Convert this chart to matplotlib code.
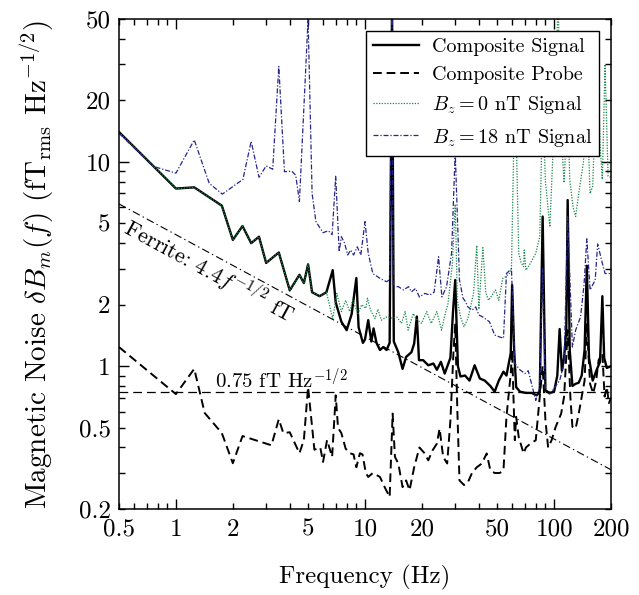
import matplotlib
matplotlib.use("Agg")
import matplotlib.pyplot as plt
from matplotlib.ticker import LogLocator, FuncFormatter
import numpy as np

plt.rcParams["font.family"] = ["cmr10", "DejaVu Serif"]
plt.rcParams["mathtext.fontset"] = "cm"
plt.rcParams["axes.formatter.use_mathtext"] = True

# ---- data ----
sig_f = [0.5, 1.0, 1.25, 1.75, 2.0, 2.25, 2.5, 2.75, 3.0, 3.5, 4.0, 4.5, 4.75, 5.0, 5.25,
         5.75, 6.25, 6.75, 7.0, 7.5, 8.0, 8.5, 9.0, 9.25, 9.75, 10.0, 10.4, 10.8, 11.1, 11.5,
         12.0, 12.5, 13.0, 13.5, 13.9, 14.2, 15.0, 15.8, 16.5, 17.6, 18.2, 18.8, 19.3, 20.3,
         21.6, 23.0, 24.0, 25.2, 26.4, 28.3, 29.2, 30.0, 31.0, 32.0, 33.8, 35.7, 38.0, 40.5,
         43.0, 46.0, 48.5, 51.0, 54.0, 56.0, 59.0, 60.0, 61.5, 63.0, 66.0, 70.7, 76.0, 81.0,
         84.0, 87.0, 90.0, 95.0, 100.0, 104.0, 107.0, 110.0, 113.0, 116.0, 118.0, 121.0, 125.0,
         130.0, 135.0, 140.0, 145.0, 149.0, 153.0, 160.0, 168.0, 175.0, 180.0, 184.0, 190.0,
         200.0]
sig_v = [14.0, 7.4, 7.5, 6.1, 4.15, 4.85, 4.0, 4.3, 3.2, 3.6, 2.35, 2.8, 2.55, 3.15, 2.3,
         2.2, 2.3, 2.95, 2.05, 1.65, 1.5, 1.8, 2.7, 1.55, 1.3, 1.35, 1.68, 1.32, 1.53, 1.3,
         1.2, 1.24, 1.2, 1.3, 60.0, 1.32, 1.17, 0.97, 1.11, 1.17, 1.29, 1.75, 1.07, 1.07,
         1.01, 1.03, 0.96, 1.05, 0.92, 1.1, 1.84, 2.64, 1.0, 0.89, 0.9, 0.85, 1.01, 0.87,
         0.85, 0.8, 0.75, 0.85, 0.94, 0.9, 1.16, 2.5, 1.2, 0.79, 0.75, 0.74, 0.74, 0.72,
         0.75, 5.4, 0.76, 0.74, 0.75, 0.9, 1.52, 0.95, 1.1, 1.5, 6.5, 1.2, 0.8,
         0.82, 0.83, 0.9, 1.2, 3.1, 1.1, 0.85, 0.96, 1.05, 2.2, 1.1, 0.98,
         1.0]

probe_f = [0.5, 1.0, 1.25, 1.42, 1.75, 2.0, 2.25, 3.2, 3.5, 3.7, 4.0, 4.5, 4.75, 5.0, 5.4,
           5.8, 6.0, 6.3, 6.7, 7.0, 7.2, 7.5, 7.9, 8.3, 8.7, 9.0, 9.4, 9.7, 10.1, 10.4, 11.0,
           12.0, 12.7, 13.5, 14.0, 14.4, 15.0, 15.8, 16.5, 17.2, 18.2, 19.4, 20.7, 21.6, 22.8,
           24.0, 24.8, 25.9, 27.2, 28.3, 29.4, 30.0, 30.8, 31.6, 33.4, 35.0, 36.8, 39.0, 41.5,
           44.0, 46.0, 48.5, 51.6, 54.0, 56.0, 59.0, 60.0, 61.0, 62.0, 63.0, 65.0, 69.0, 71.0,
           75.0, 80.0, 84.0, 87.0, 90.0, 93.0, 97.0, 102.0, 109.0, 113.0, 118.0, 122.0, 125.0,
           130.0, 135.0, 145.0, 149.0, 155.0, 161.0, 167.0, 172.0, 180.0, 185.0, 190.0, 195.0,
           200.0]
probe_v = [1.24, 0.73, 0.97, 0.59, 0.47, 0.335, 0.455, 0.41, 0.55, 0.47, 0.475, 0.375, 0.435,
           0.79, 0.39, 0.40, 0.34, 0.435, 0.36, 0.72, 0.50, 0.47, 0.395, 0.375, 0.37, 0.32,
           0.375, 0.37, 0.30, 0.287, 0.30, 0.287, 0.256, 0.229, 0.586, 0.36, 0.334, 0.256,
           0.276, 0.247, 0.32, 0.40, 0.374, 0.346, 0.388, 0.418, 0.495, 0.36, 0.334, 0.544,
           1.2, 1.6, 0.6, 0.276, 0.262, 0.27, 0.30, 0.32, 0.334, 0.374, 0.31, 0.30, 0.30,
           0.31, 0.565, 0.92, 1.2, 0.7, 0.434, 0.565, 0.45, 0.374, 0.40, 0.418, 0.434, 0.71,
           1.0, 0.544, 0.40, 0.434, 0.505, 0.586, 0.71, 1.5, 0.7, 0.505, 0.495, 0.586, 0.85,
           1.62, 0.82, 0.735, 0.85, 1.07, 1.16, 0.71, 0.79, 0.66, 0.7]

b0_f = [0.5, 1.0, 1.25, 1.75, 2.0, 2.25, 2.5, 2.75, 3.0, 3.5, 4.0, 4.5, 4.75, 5.0, 5.25,
        5.75, 6.25, 6.75, 7.1, 7.5, 7.9, 8.3, 8.6, 9.2, 9.6, 10.1, 10.3, 10.7, 11.3, 11.7,
        12.2, 13.0, 13.9, 14.7, 15.6, 16.3, 16.9, 18.0, 18.6, 19.9, 21.2, 22.4, 24.0, 25.4,
        26.3, 27.5, 29.0, 30.0, 30.8, 32.0, 33.4, 35.0, 37.5, 39.0, 40.0, 42.0, 43.5, 45.0,
        49.0, 51.0, 53.5, 55.5, 58.0, 59.5, 61.0, 62.5, 65.0, 67.0, 69.0, 69.5, 71.0, 75.0,
        80.0, 84.0, 87.0, 90.0, 95.0, 100.0, 105.0, 110.0, 113.0, 118.0, 121.0, 126.0, 130.0,
        135.0, 143.0, 149.0, 155.0, 160.0, 170.0, 175.0, 180.0, 186.0, 193.0, 200.0]
b0_v = [14.0, 7.4, 7.5, 6.1, 4.15, 4.85, 4.0, 4.3, 3.2, 3.6, 2.35, 2.8, 2.55, 3.15, 2.3,
        2.2, 2.3, 1.71, 2.27, 1.85, 2.1, 1.85, 2.1, 1.81, 2.0, 1.92, 2.15, 1.88, 1.71, 1.9,
        1.68, 1.74, 1.72, 1.74, 1.62, 1.85, 1.5, 1.81, 1.71, 1.62, 1.85, 1.62, 1.85, 1.5,
        1.74, 2.03, 3.2, 6.2, 2.1, 1.74, 1.56, 1.71, 2.27, 3.9, 1.9, 3.8, 2.3, 2.1,
        2.36, 2.1, 2.69, 2.74, 2.84, 3.0, 10.2, 20.0, 3.57, 3.2, 3.07, 3.7, 2.95, 3.19,
        3.57, 4.3, 20.0, 8.0, 4.8, 15.0, 60.0, 12.0, 7.9, 20.0, 8.2, 6.0, 5.4,
        7.0, 10.0, 20.0, 7.0, 7.6, 38.0, 12.0, 8.2, 30.0, 8.5, 8.4]

b18_f = [0.5, 0.76, 1.0, 1.25, 1.5, 1.76, 2.26, 2.5, 2.75, 3.0, 3.25, 3.5, 3.75, 4.1, 4.3,
         4.5, 5.0, 5.25, 5.5, 6.0, 6.4, 6.7, 7.0, 7.3, 7.5, 7.8, 8.1, 8.4, 8.7, 9.1, 9.5,
         10.0, 10.4, 11.0, 12.0, 13.0, 13.5, 13.9, 14.1, 15.0, 16.0, 17.0, 17.6, 18.5, 19.4,
         20.7, 22.0, 23.2, 24.5, 25.5, 27.0, 28.7, 30.0, 31.6, 33.0, 34.0, 35.0, 36.8, 38.5,
         40.0, 42.0, 45.5, 48.5, 51.5, 54.0, 56.0, 59.5, 62.0, 66.0, 70.0, 73.0, 76.0, 80.0,
         84.0, 87.0, 90.0, 95.0, 101.0, 107.0, 113.0, 118.0, 125.0, 130.0, 138.0, 144.0,
         149.0, 155.0, 165.0, 170.0, 180.0, 186.0, 197.0]
b18_v = [13.8, 9.5, 8.8, 12.8, 7.85, 6.95, 8.2, 12.6, 8.4, 9.55, 9.2, 29.3, 8.95, 9.0, 8.6,
         6.4, 50.0, 7.0, 5.1, 4.5, 4.6, 4.4, 8.5, 3.63, 4.3, 4.0, 3.5, 3.7, 3.5, 3.84, 3.5,
         5.1, 3.57, 2.84, 2.69, 2.59, 2.65, 60.0, 2.45, 2.45, 2.36, 2.45, 2.31, 2.4, 2.18,
         2.27, 2.23, 2.3, 3.43, 2.18, 2.45, 3.57, 11.2, 2.64, 2.15, 2.07, 1.95, 1.88, 1.95,
         1.78, 1.74, 1.65, 1.42, 1.39, 1.37, 2.84, 3.0, 1.03, 0.96, 0.92, 0.95, 0.82, 0.68,
         0.79, 3.0, 0.75, 0.73, 0.79, 0.85, 1.03, 5.4, 1.24, 1.5, 1.74, 2.5,
         4.2, 2.36, 2.64, 3.96, 3.19, 2.84, 2.84]

floor_level = 0.75
ferrite_amp = 4.4
x_labels = [0.5, 1, 2, 5, 10, 20, 50, 100, 200]
y_labels = [0.2, 0.5, 1, 2, 5, 10, 20, 50]

GREEN = "#17874a"
NAVY = "#25258a"


def tick_fmt(labels):
    def fmt(v, _pos):
        for lab in labels:
            if abs(v - lab) < 1e-6 * lab:
                return f"{lab:g}"
        return ""
    return FuncFormatter(fmt)


fig = plt.figure(figsize=(6.39, 5.95), dpi=100)
ax = fig.add_axes([119 / 639, 1 - 509 / 595, 492 / 639, 490 / 595])

ax.plot(sig_f, sig_v, color="black", lw=1.7, label="Composite Signal")
ax.plot(probe_f, probe_v, color="black", lw=1.4, ls=(0, (4.5, 2.5)), label="Composite Probe")
ax.plot(b0_f, b0_v, color=GREEN, lw=0.9, ls=(0, (1, 1.2)), label=r"$B_z = 0$ nT Signal")
ax.plot(b18_f, b18_v, color=NAVY, lw=0.9, ls=(0, (4, 1.5, 1, 1.5)), label=r"$B_z = 18$ nT Signal")

fgrid = np.array([0.5, 200.0])
ax.plot(fgrid, [floor_level, floor_level], color="black", lw=0.9, ls=(0, (7, 4)))
ax.plot(fgrid, ferrite_amp / np.sqrt(fgrid), color="black", lw=0.8, ls=(0, (7, 3, 1.2, 3)))

ax.text(1.6, 0.86, r"0.75 fT Hz$^{-1/2}$", fontsize=15, ha="left", va="center")
ax.text(1.5, 2.92, r"Ferrite: 4.4$f^{-1/2}$ fT", fontsize=16, ha="center", va="center",
        rotation=-28.5, rotation_mode="anchor")

ax.set_xscale("log")
ax.set_yscale("log")
ax.set_xlim(0.5, 200)
ax.set_ylim(0.2, 50)

for axis, labels in ((ax.xaxis, x_labels), (ax.yaxis, y_labels)):
    axis.set_major_locator(LogLocator(base=10))
    axis.set_minor_locator(LogLocator(base=10, subs=np.arange(2, 10)))
    axis.set_major_formatter(tick_fmt(labels))
    axis.set_minor_formatter(tick_fmt(labels))

ax.tick_params(which="both", direction="in", top=True, right=True, labelsize=18, width=1.0)
ax.tick_params(which="major", length=7)
ax.tick_params(which="minor", length=4.5)
ax.tick_params(axis="x", which="both", pad=7)
ax.tick_params(axis="y", which="both", pad=6)
for sp in ax.spines.values():
    sp.set_linewidth(1.1)

ax.set_xlabel("Frequency (Hz)", fontsize=18, labelpad=17)
ax.set_ylabel(r"Magnetic Noise $\delta B_m(f)$ (fT$_{\rm rms}$ Hz$^{-1/2}$)", fontsize=21, labelpad=16)

leg = ax.legend(loc="upper right", fontsize=14.5, frameon=True, fancybox=False,
                edgecolor="black", framealpha=1, handlelength=2.3, borderaxespad=0.6,
                labelspacing=0.5, handletextpad=0.6, borderpad=0.35)
leg.get_frame().set_linewidth(1.0)

fig.savefig("out.png", dpi=100)
